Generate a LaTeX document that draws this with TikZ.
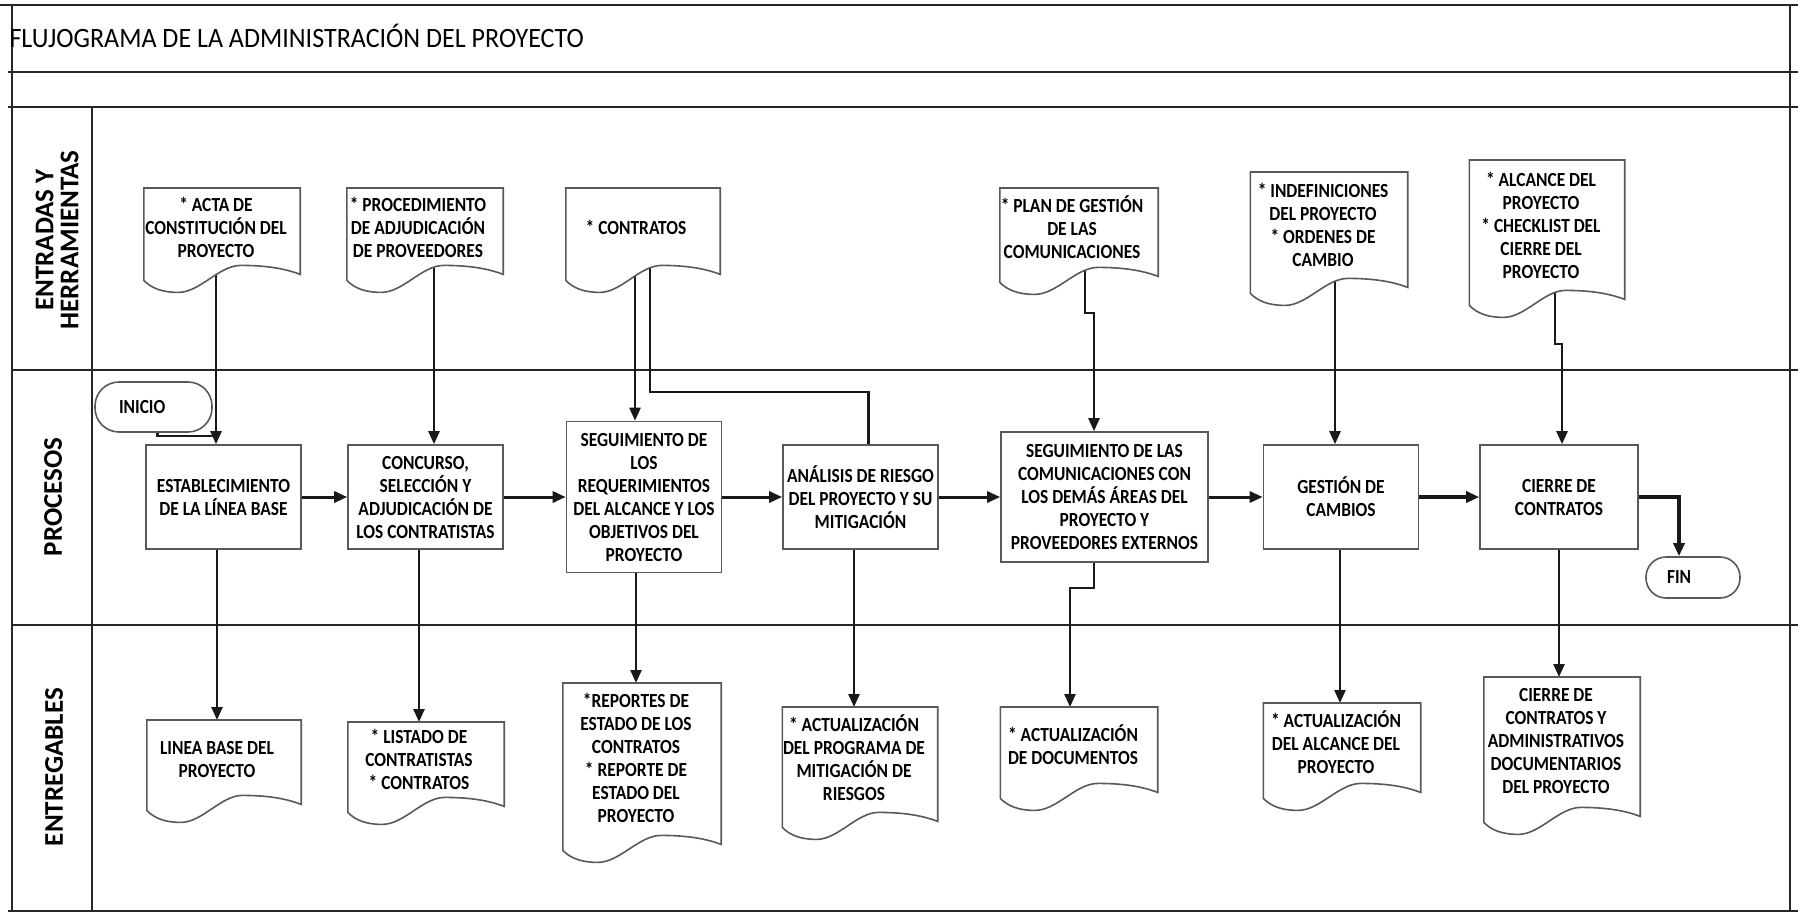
\documentclass[tikz,border=0pt]{standalone}
\usepackage{fontspec}
\setmainfont{Carlito}
\newfontfamily\boxfont{Carlito}[FakeStretch=0.87]
\newfontfamily\titlefont{Carlito}[FakeStretch=0.93]
\usetikzlibrary{arrows.meta,calc}

\newcommand{\boxtext}{\boxfont\bfseries\fontsize{20}{23}\selectfont}
\newcommand{\lanetext}{\bfseries\fontsize{27}{25}\selectfont}

\tikzset{
	laneline/.style={draw=black!85, line width=2.6pt},
	procbox/.style={draw=black!65, line width=1.6pt, fill=white, minimum height=104pt, minimum width=155pt, inner sep=0pt, align=center, font=\boxtext},
	termbox/.style={draw=black!65, line width=1.6pt, fill=white, align=left, font=\boxtext},
	docbox/.style={inner sep=0pt, anchor=north},
	doctext/.style={inner sep=0pt, align=center, font=\boxtext},
	docline/.style={draw=black!65, line width=1.6pt, fill=white},
	flow/.style={draw=black!90, line width=2.4pt, -{Triangle[length=13pt,width=11pt]}},
	link/.style={draw=black!90, line width=2.4pt},
	lanelabel/.style={rotate=90, align=center, font=\lanetext}
}

\newcommand{\docframe}[1]{%
	\draw[docline] (#1.south west) -- (#1.north west) -- (#1.north east) -- ($(#1.south east)+(0,-6)$)
		.. controls ($(#1.south west)!0.9!(#1.south east)+(0,-12)$) and ($(#1.south west)!0.78!(#1.south east)+(0,-15)$) .. ($(#1.south west)!0.62!(#1.south east)+(0,-15)$)
		.. controls ($(#1.south west)!0.48!(#1.south east)+(0,-15)$) and ($(#1.south west)!0.36!(#1.south east)+(0,12)$) .. ($(#1.south west)!0.22!(#1.south east)+(0,12)$)
		.. controls ($(#1.south west)!0.12!(#1.south east)+(0,12)$) and ($(#1.south west)!0.05!(#1.south east)+(0,8)$) .. (#1.south west) -- cycle;}

\begin{document}
\begin{tikzpicture}[x=1pt, y=-1pt]
	\useasboundingbox (0,0) rectangle (1798,914);

	\draw[laneline] (0,5) -- (1798,5);
	\draw[laneline] (8,72) -- (1798,72);
	\draw[laneline] (8,107) -- (1798,107);
	\draw[laneline] (12,370) -- (1798,370);
	\draw[laneline] (12,625) -- (1798,625);
	\draw[laneline] (8,911) -- (1798,911);
	\draw[laneline] (12,5) -- (12,911);
	\draw[laneline] (92,107) -- (92,911);
	\draw[laneline] (1790,5) -- (1790,911);

	\node[anchor=base west, font=\titlefont\fontsize{28}{30}\selectfont] (titulo) at (6,47) {FLUJOGRAMA DE LA ADMINISTRACIÓN DEL PROYECTO};

	\node[lanelabel] (lane-ent) at (57,240) {ENTRADAS Y\\HERRAMIENTAS};
	\node[lanelabel] (lane-proc) at (53,497) {PROCESOS};
	\node[lanelabel] (lane-entr) at (54,767) {ENTREGABLES};

	\node[termbox, rounded corners=24pt, inner xsep=24pt, text width=69pt, minimum height=50pt] (inicio) at (153.5,407) {INICIO};
	\node[termbox, rounded corners=20pt, inner xsep=21pt, text width=52pt, minimum height=41pt] (fin) at (1693,577.5) {FIN};

	\node[procbox] (estab) at (223.5,497) {ESTABLECIMIENTO\\DE LA LÍNEA BASE};
	\node[procbox] (concurso) at (425.5,497) {CONCURSO,\\SELECCIÓN Y\\ADJUDICACIÓN DE\\LOS CONTRATISTAS};
	\node[procbox, minimum height=151pt] (seguim) at (644,497) {SEGUIMIENTO DE\\LOS\\REQUERIMIENTOS\\DEL ALCANCE Y LOS\\OBJETIVOS DEL\\PROYECTO};
	\node[procbox] (analisis) at (860.5,497) {ANÁLISIS DE RIESGO\\DEL PROYECTO Y SU\\MITIGACIÓN};
	\node[procbox, minimum width=207pt, minimum height=130pt] (segcom) at (1104.5,497) {SEGUIMIENTO DE LAS\\COMUNICACIONES CON\\LOS DEMÁS ÁREAS DEL\\PROYECTO Y\\PROVEEDORES EXTERNOS};
	\node[procbox] (gestion) at (1341,497) {GESTIÓN DE\\CAMBIOS};
	\node[procbox, minimum width=158pt] (cierre) at (1559,497) {CIERRE DE\\CONTRATOS};

	\node[docbox, minimum width=156pt, minimum height=92pt] (acta) at (222,188) {};
	\node[docbox, minimum width=156pt, minimum height=92pt] (procadj) at (425,188) {};
	\node[docbox, minimum width=154pt, minimum height=92pt] (contratos) at (643,188) {};
	\node[docbox, minimum width=158pt, minimum height=94pt] (plan) at (1079,188) {};
	\node[docbox, minimum width=157pt, minimum height=121pt] (indef) at (1329,172) {};
	\node[docbox, minimum width=155pt, minimum height=145pt] (alcance) at (1547,160) {};

	\node[docbox, minimum width=154pt, minimum height=90pt] (lineab) at (224,720) {};
	\node[docbox, minimum width=156pt, minimum height=90pt] (listado) at (426,722) {};
	\node[docbox, minimum width=158pt, minimum height=167pt] (reportes) at (642,683) {};
	\node[docbox, minimum width=155pt, minimum height=120pt] (actprog) at (860,707) {};
	\node[docbox, minimum width=157pt, minimum height=91pt] (actdoc) at (1079,707) {};
	\node[docbox, minimum width=157pt, minimum height=95pt] (actalc) at (1342,703) {};
	\node[docbox, minimum width=156pt, minimum height=145pt] (cierredoc) at (1562,677) {};

	\draw[flow] ($(acta.center)+(-6,0)$) -- ($(acta.center |- estab.north)+(-6,0)$);
	\draw[link] ([xshift=4pt]inicio.south) |- ([xshift=-7.5pt, yshift=8pt]estab.north);
	\draw[flow] ($(procadj.center)+(9,0)$) -- ($(procadj.center |- concurso.north)+(9,0)$);
	\draw[flow] ($(contratos.center)+(-8,0)$) -- ($(contratos.center |- seguim.north)+(-8,0)$);
	\draw[link] ([xshift=7pt]contratos.center) |- ([xshift=8pt, yshift=52pt]analisis.north) -- ([xshift=8pt]analisis.north);
	\draw[flow] ([xshift=6pt]plan.center) |- ([xshift=-10.5pt, yshift=118pt]segcom.north) -- ([xshift=-10.5pt]segcom.north);
	\draw[flow] ($(indef.center)+(6,0)$) -- ($(indef.center |- gestion.north)+(6,0)$);
	\draw[flow] ([xshift=8pt]alcance.center) |- ([xshift=3pt, yshift=100pt]cierre.north) -- ([xshift=3pt]cierre.north);

	\draw[flow, line width=3pt] (estab.east) -- (concurso.west);
	\draw[flow, line width=3pt] (concurso.east) -- (seguim.west);
	\draw[flow, line width=3pt] (seguim.east) -- (analisis.west);
	\draw[flow, line width=3pt] (analisis.east) -- (segcom.west);
	\draw[flow, line width=3pt] (segcom.east) -- (gestion.west);
	\draw[flow, line width=3.6pt] (gestion.east) -- (cierre.west);
	\draw[flow, line width=3.4pt] (cierre.east) -| ([xshift=-14pt]fin.north);

	\draw[flow] ($(estab.south)+(-6.5,0)$) -- ($(estab.south |- lineab.north)+(-6.5,0)$);
	\draw[flow] ($(concurso.south)+(-6.5,0)$) -- ($(concurso.south |- listado.north)+(-6.5,0)$);
	\draw[flow] ($(seguim.south)+(-8,0)$) -- ($(seguim.south |- reportes.north)+(-8,0)$);
	\draw[flow] ($(analisis.south)+(-6.5,0)$) -- ($(analisis.south |- actprog.north)+(-6.5,0)$);
	\draw[flow] ([xshift=-10.5pt]segcom.south) |- ([xshift=-9pt, yshift=119pt]actdoc.north) -- ([xshift=-9pt]actdoc.north);
	\draw[flow] ($(gestion.south)+(-1,0)$) -- ($(gestion.south |- actalc.north)+(-1,0)$);
	\draw[flow] (cierre.south) -- (cierre.south |- cierredoc.north);

	\docframe{acta}
	\docframe{procadj}
	\docframe{contratos}
	\docframe{plan}
	\docframe{indef}
	\docframe{alcance}
	\docframe{lineab}
	\docframe{listado}
	\docframe{reportes}
	\docframe{actprog}
	\docframe{actdoc}
	\docframe{actalc}
	\docframe{cierredoc}

	\node[doctext] (acta-t) at (216,227) {* ACTA DE\\CONSTITUCIÓN DEL\\PROYECTO};
	\node[doctext] (procadj-t) at (418,227) {* PROCEDIMIENTO\\DE ADJUDICACIÓN\\DE PROVEEDORES};
	\node[doctext] (contratos-t) at (636,227) {* CONTRATOS};
	\node[doctext] (plan-t) at (1072,227) {* PLAN DE GESTIÓN\\DE LAS\\COMUNICACIONES};
	\node[doctext] (indef-t) at (1323,225) {* INDEFINICIONES\\DEL PROYECTO\\* ORDENES DE\\CAMBIO};
	\node[doctext] (alcance-t) at (1541,225) {* ALCANCE DEL\\PROYECTO\\* CHECKLIST DEL\\CIERRE DEL\\PROYECTO};

	\node[doctext] (lineab-t) at (217,759) {LINEA BASE DEL\\PROYECTO};
	\node[doctext] (listado-t) at (419,759) {* LISTADO DE\\CONTRATISTAS\\* CONTRATOS};
	\node[doctext] (reportes-t) at (636,758) {*REPORTES DE\\ESTADO DE LOS\\CONTRATOS\\* REPORTE DE\\ESTADO DEL\\PROYECTO};
	\node[doctext] (actprog-t) at (854,758) {* ACTUALIZACIÓN\\DEL PROGRAMA DE\\MITIGACIÓN DE\\RIESGOS};
	\node[doctext] (actdoc-t) at (1073,745) {* ACTUALIZACIÓN\\DE DOCUMENTOS};
	\node[doctext] (actalc-t) at (1336,742) {* ACTUALIZACIÓN\\DEL ALCANCE DEL\\PROYECTO};
	\node[doctext] (cierredoc-t) at (1556,741) {CIERRE DE\\CONTRATOS Y\\ADMINISTRATIVOS\\DOCUMENTARIOS\\DEL PROYECTO};
\end{tikzpicture}
\end{document}
